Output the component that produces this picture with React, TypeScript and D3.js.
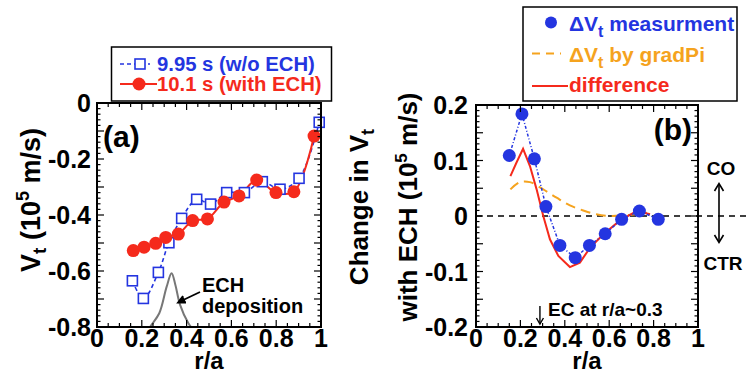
import React from 'react';
import * as d3 from 'd3';

// panel (a): Vt profiles
const rNoEch = [0.158, 0.207, 0.274, 0.321, 0.378, 0.445, 0.507, 0.579, 0.658, 0.738, 0.817, 0.902, 0.992];
const vtNoEch = [-0.635, -0.698, -0.605, -0.499, -0.412, -0.344, -0.361, -0.32, -0.32, -0.281, -0.308, -0.269, -0.069];
const rEch = [0.162, 0.21, 0.262, 0.307, 0.363, 0.427, 0.493, 0.567, 0.634, 0.713, 0.799, 0.879, 0.969];
const vtEch = [-0.527, -0.515, -0.501, -0.48, -0.468, -0.42, -0.414, -0.354, -0.332, -0.275, -0.32, -0.317, -0.118];
const rDep = [0.22, 0.237, 0.278, 0.311, 0.333, 0.35, 0.371, 0.408, 0.43];
const dep = [-0.83, -0.8, -0.751, -0.656, -0.608, -0.65, -0.721, -0.787, -0.81];

// panel (b): change in Vt
const rMeas = [0.15, 0.207, 0.263, 0.315, 0.378, 0.447, 0.511, 0.582, 0.656, 0.736, 0.821];
const dvMeas = [0.109, 0.184, 0.103, 0.017, -0.053, -0.075, -0.053, -0.032, -0.006, 0.009, -0.006];
const rGrad = [0.155, 0.198, 0.243, 0.303, 0.363, 0.423, 0.483, 0.542, 0.6, 0.69, 0.77];
const dvGrad = [0.048, 0.061, 0.061, 0.048, 0.033, 0.019, 0.01, 0.003, 0, 0.002, 0.006];
const rDiff = [0.155, 0.182, 0.212, 0.243, 0.273, 0.303, 0.333, 0.371, 0.423, 0.468, 0.514, 0.574, 0.649, 0.724, 0.784];
const dvDiff = [0.072, 0.096, 0.121, 0.09, 0.048, 0, -0.042, -0.072, -0.092, -0.084, -0.057, -0.033, -0.008, 0.009, 0.003];

const xTicks = ['0', '0.2', '0.4', '0.6', '0.8', '1'];
const yTicksA = ['0', '-0.2', '-0.4', '-0.6', '-0.8'];
const yTicksB = ['0.2', '0.1', '0', '-0.1', '-0.2'];

const FONT = 'Liberation Sans, Arial, sans-serif';
const BLUE = '#2435e0';
const RED = '#f52a1c';
const ORANGE = '#f5a31e';

const zip = (xs: number[], ys: number[]) => xs.map((x, i) => [x, ys[i]] as [number, number]);

// ticks on all four sides, pointing inward
function Frame({ x, y, xStep, xMajor, yStep, yMajor }: any) {
  const [x0, x1] = x.range();
  const [y0, y1] = y.range(); // y0 bottom, y1 top
  const xd = x.domain();
  const yd = y.domain();
  const lines: any[] = [];
  const xs = d3.range(Math.round((xd[1] - xd[0]) / xStep) + 1).map(i => xd[0] + i * xStep);
  xs.forEach((v, i) => {
    const len = Math.abs(v / xMajor - Math.round(v / xMajor)) < 1e-6 ? 7 : 4;
    const px = x(v);
    lines.push(<line key={'xb' + i} x1={px} x2={px} y1={y0} y2={y0 - len} />);
    lines.push(<line key={'xt' + i} x1={px} x2={px} y1={y1} y2={y1 + len} />);
  });
  const ys = d3.range(Math.round((yd[1] - yd[0]) / yStep) + 1).map(i => yd[0] + i * yStep);
  ys.forEach((v, i) => {
    const len = Math.abs(v / yMajor - Math.round(v / yMajor)) < 1e-6 ? 7 : 3.5;
    const py = y(v);
    lines.push(<line key={'yl' + i} x1={x0} x2={x0 + len} y1={py} y2={py} />);
    lines.push(<line key={'yr' + i} x1={x1} x2={x1 - len} y1={py} y2={py} />);
  });
  return (
    <g stroke="#000" strokeWidth={1.2}>
      {lines}
      <rect x={x0} y={y1} width={x1 - x0} height={y0 - y1} fill="none" strokeWidth={2} />
    </g>
  );
}

export default function App() {
  const xA = d3.scaleLinear().domain([0, 1]).range([97, 321]);
  const yA = d3.scaleLinear().domain([-0.8, 0]).range([327, 103]);
  const xB = d3.scaleLinear().domain([0, 1]).range([476, 698]);
  const yB = d3.scaleLinear().domain([-0.2, 0.2]).range([327, 105]);

  const lineA = d3.line<[number, number]>().x(d => xA(d[0])).y(d => yA(d[1])).curve(d3.curveCatmullRom);
  const lineB = d3.line<[number, number]>().x(d => xB(d[0])).y(d => yB(d[1]));
  const lineBs = d3.line<[number, number]>().x(d => xB(d[0])).y(d => yB(d[1])).curve(d3.curveCatmullRom);

  return (
    <svg width={748} height={374} style={{ position: 'absolute', left: 0, top: 0, background: '#fff' }}
      fontFamily={FONT} fontWeight="bold">
      <defs>
        <clipPath id="clipA"><rect x={97} y={103} width={224} height={224} /></clipPath>
      </defs>

      {/* ---------- panel (a) ---------- */}
      <path d={lineA(zip(rDep, dep)) || ''} fill="none" stroke="#777" strokeWidth={2} clipPath="url(#clipA)" />
      <path d={lineA(zip(rNoEch, vtNoEch)) || ''} fill="none" stroke={BLUE} strokeWidth={1.6} strokeDasharray="4,3" />
      <path d={lineA(zip(rEch, vtEch)) || ''} fill="none" stroke={RED} strokeWidth={2} />
      {rNoEch.map((r, i) => (
        <rect key={'sq' + i} x={xA(r) - 5} y={yA(vtNoEch[i]) - 5} width={10} height={10}
          fill="#fff" stroke={BLUE} strokeWidth={1.6} />
      ))}
      {rEch.map((r, i) => (
        <circle key={'ci' + i} cx={xA(r)} cy={yA(vtEch[i])} r={6.5} fill={RED} />
      ))}
      <Frame x={xA} y={yA} xStep={0.05} xMajor={0.2} yStep={0.02} yMajor={0.1} />

      {xTicks.map((t, i) => (
        <text key={'xa' + i} x={xA(i * 0.2)} y={347} fontSize={25} textAnchor="middle">{t}</text>
      ))}
      {yTicksA.map((t, i) => (
        <text key={'ya' + i} x={91} y={yA(-i * 0.2)} dy="0.36em" fontSize={25} textAnchor="end">{t}</text>
      ))}
      <text x={209} y={369} fontSize={24} textAnchor="middle">r/a</text>
      <text transform="translate(40,200) rotate(-90)" fontSize={27} textAnchor="middle">
        V<tspan fontSize={19} dy={6}>t</tspan><tspan dy={-6}> (10</tspan><tspan fontSize={18} dy={-11}>5</tspan><tspan dy={11}> m/s)</tspan>
      </text>
      <text x={103} y={147} fontSize={30}>(a)</text>

      <text x={202} y={292} fontSize={20}>ECH</text>
      <text x={202} y={313} fontSize={20}>deposition</text>
      <g stroke="#000" strokeWidth={1.8} fill="none">
        <line x1={200} y1={292} x2={179} y2={302} />
        <path d="M183,296 L178,302.5 L186,302.5" fill="#000" />
      </g>

      {/* legend (a) */}
      <rect x={111.5} y={47} width={220} height={54} fill="#fff" stroke="#000" strokeWidth={1.5} />
      <line x1={120} x2={150} y1={64} y2={64} stroke={BLUE} strokeWidth={1.6} strokeDasharray="4,3" />
      <rect x={135} y={59} width={10} height={10} fill="#fff" stroke={BLUE} strokeWidth={1.6} />
      <text x={157} y={71} fontSize={20.3} fill={BLUE}>9.95 s (w/o ECH)</text>
      <line x1={120} x2={157} y1={84} y2={84} stroke={RED} strokeWidth={2} />
      <circle cx={139} cy={84} r={6.5} fill={RED} />
      <text x={157} y={91} fontSize={20.3} fill={RED}>10.1 s (with ECH)</text>

      {/* ---------- panel (b) ---------- */}
      <line x1={476} x2={748} y1={yB(0)} y2={yB(0)} stroke="#000" strokeWidth={1.5} strokeDasharray="6,5" />
      <path d={lineBs(zip(rGrad, dvGrad)) || ''} fill="none" stroke={ORANGE} strokeWidth={2} strokeDasharray="10,6" />
      <path d={lineB(zip(rDiff, dvDiff)) || ''} fill="none" stroke={RED} strokeWidth={2} />
      <path d={lineB(zip(rMeas, dvMeas)) || ''} fill="none" stroke={BLUE} strokeWidth={1.5} strokeDasharray="3,2,1,2" />
      {rMeas.map((r, i) => (
        <circle key={'mb' + i} cx={xB(r)} cy={yB(dvMeas[i])} r={6.5} fill={BLUE} />
      ))}
      <Frame x={xB} y={yB} xStep={0.05} xMajor={0.2} yStep={0.01} yMajor={0.05} />

      {xTicks.map((t, i) => (
        <text key={'xb' + i} x={xB(i * 0.2)} y={347} fontSize={25} textAnchor="middle">{t}</text>
      ))}
      {yTicksB.map((t, i) => (
        <text key={'yb' + i} x={468} y={yB(0.2 - i * 0.1)} dy="0.36em" fontSize={25} textAnchor="end">{t}</text>
      ))}
      <text x={587} y={369} fontSize={24} textAnchor="middle">r/a</text>
      <text transform="translate(368,207) rotate(-90)" fontSize={26} textAnchor="middle">
        Change in V<tspan fontSize={18} dy={6}>t</tspan>
      </text>
      <text transform="translate(417,207) rotate(-90)" fontSize={26} textAnchor="middle">
        with ECH (10<tspan fontSize={17} dy={-10}>5</tspan><tspan dy={10}> m/s)</tspan>
      </text>
      <text x={692} y={140} fontSize={30} textAnchor="end">(b)</text>

      {/* CO / CTR */}
      <text x={721} y={175} fontSize={19} textAnchor="middle">CO</text>
      <text x={723} y={270} fontSize={19} textAnchor="middle">CTR</text>
      <g stroke="#000" strokeWidth={1.6} fill="none">
        <line x1={719} x2={719} y1={184} y2={242} />
        <path d="M714.5,191 L719,183.5 L723.5,191" />
        <path d="M714.5,235 L719,242.5 L723.5,235" />
      </g>

      {/* EC location */}
      <g stroke="#000" strokeWidth={1.4} fill="none">
        <line x1={xB(0.288)} x2={xB(0.288)} y1={306} y2={324} />
        <path d={`M${xB(0.288) - 3.5},318 L${xB(0.288)},324 L${xB(0.288) + 3.5},318`} />
      </g>
      <text x={548} y={316} fontSize={19}>EC at r/a~0.3</text>

      {/* legend (b) */}
      <rect x={523} y={7} width={214} height={94} fill="#fff" stroke="#000" strokeWidth={1.5} />
      <circle cx={551} cy={22.5} r={6} fill={BLUE} />
      <text x={569} y={31} fontSize={21} fill={BLUE}>
        ΔV<tspan fontSize={16} dy={6}>t</tspan><tspan dy={-6}> measurment</tspan>
      </text>
      <line x1={532} x2={561} y1={53.5} y2={53.5} stroke={ORANGE} strokeWidth={2} strokeDasharray="8,6" />
      <text x={569} y={62} fontSize={21} fill={ORANGE}>
        ΔV<tspan fontSize={16} dy={6}>t</tspan><tspan dy={-6}> by gradPi</tspan>
      </text>
      <line x1={532} x2={568} y1={86} y2={86} stroke={RED} strokeWidth={2} />
      <text x={569} y={92} fontSize={21} fill={RED}>difference</text>
    </svg>
  );
}
